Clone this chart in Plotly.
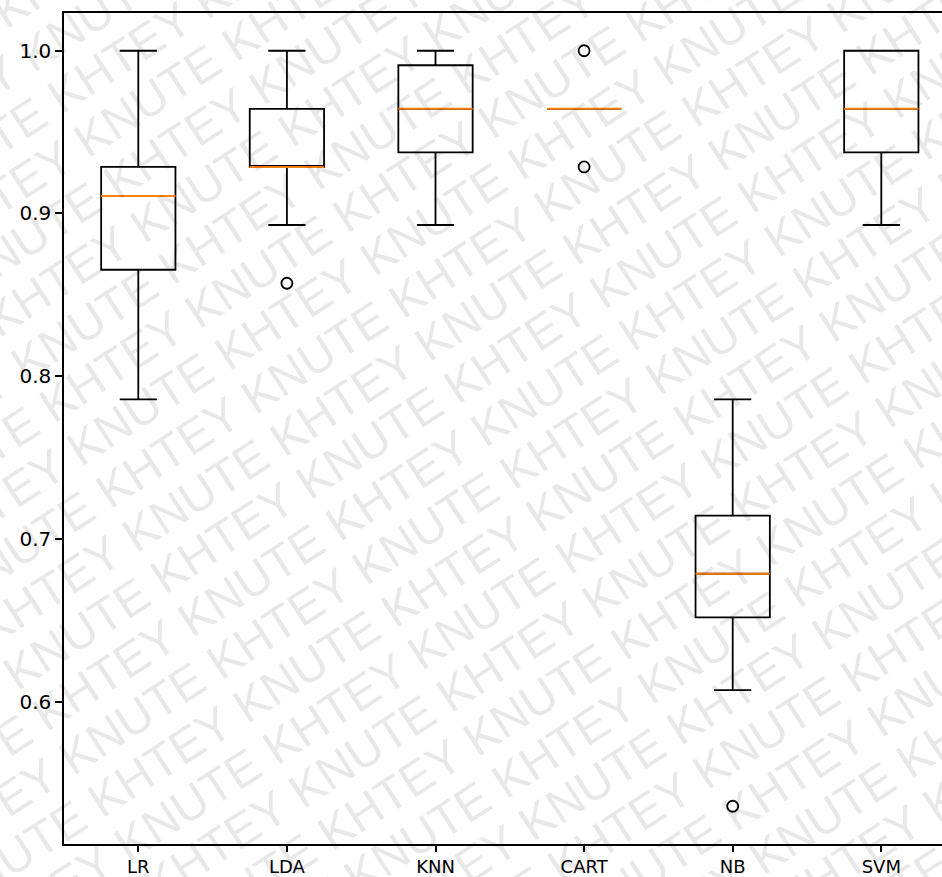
import plotly.graph_objects as go
import math

# ---- data ----
labels = ["LR", "LDA", "KNN", "CART", "NB", "SVM"]
positions = [1, 2, 3, 4, 5, 6]
q1 = [0.8654, 0.9286, 0.9375, 0.9643, 0.6518, 0.9375]
median = [0.9107, 0.9286, 0.9643, 0.9643, 0.6786, 0.9643]
q3 = [0.9286, 0.9643, 0.9911, 0.9643, 0.7143, 1.0000]
lowerfence = [0.7857, 0.8929, 0.8929, 0.9643, 0.6071, 0.8929]
upperfence = [1.0000, 1.0000, 1.0000, 0.9643, 0.7857, 1.0000]
outlier_pos = [2, 4, 4, 5]
outlier_val = [0.8571, 1.0000, 0.9286, 0.5357]
yticks = [0.6, 0.7, 0.8, 0.9, 1.0]

W, H = 942, 877
ML, MT, MR, MB = 64, 13, 0, 33
BOX_W = 0.5

fig = go.Figure()

fig.add_trace(go.Box(
    x=positions, q1=q1, median=median, q3=q3,
    lowerfence=lowerfence, upperfence=upperfence,
    width=BOX_W, whiskerwidth=0.5, boxpoints=False,
    fillcolor="rgba(0,0,0,0)", line=dict(color="black", width=1.8),
    showlegend=False, hoverinfo="skip",
))

mx, my = [], []
for p, m in zip(positions, median):
    mx += [p - BOX_W / 2, p + BOX_W / 2, None]
    my += [m, m, None]
fig.add_trace(go.Scatter(x=mx, y=my, mode="lines",
                         line=dict(color="#ff7f0e", width=2.0),
                         showlegend=False, hoverinfo="skip"))

fig.add_trace(go.Scatter(x=outlier_pos, y=outlier_val, mode="markers",
                         marker=dict(symbol="circle-open", size=11, color="black",
                                     line=dict(width=1.8, color="black")),
                         showlegend=False, hoverinfo="skip"))

# ---- watermark (tiled words) ----
ang = 33.0
FS = 48
ca, sa = math.cos(math.radians(ang)), math.sin(math.radians(ang))
pw, ph = W - ML - MR, H - MT - MB
annots = []
cx0, cy0 = 471, 438
spacing = 51
period = 7.28 * FS
half = period / 2
for k in range(-15, 16):
    for j in range(-4, 5):
        for word, off in (("KHTEY", -half / 2), ("KNUTE", half / 2)):
            t = j * period + off + (k % 2) * half
            px = cx0 + k * spacing * sa + t * ca
            py = cy0 + k * spacing * ca - t * sa
            if -150 < px < W + 150 and -150 < py < H + 150:
                annots.append(dict(
                    x=(px - ML) / pw, y=(H - MB - py) / ph,
                    xref="paper", yref="paper",
                    text=word, showarrow=False, textangle=-ang,
                    xanchor="center", yanchor="middle",
                    font=dict(family="Liberation Sans, Arial, sans-serif",
                              size=FS, color="rgba(0,0,0,0.09)"),
                ))

fig.update_layout(
    width=W, height=H,
    margin=dict(l=ML, r=MR, t=MT, b=MB, pad=0),
    paper_bgcolor="white", plot_bgcolor="white",
    font=dict(family="DejaVu Sans", size=20, color="black"),
    annotations=annots,
    xaxis=dict(range=[0.5, 0.5 + (W - ML - MR) / 148.6],
               tickvals=positions, ticktext=labels, automargin=False,
               tickfont=dict(size=18),
               showgrid=False, zeroline=False,
               showline=True, linecolor="black", linewidth=1.5, mirror=True,
               ticks="outside", ticklen=6, tickwidth=1.5, tickcolor="black"),
    yaxis=dict(range=[0.5125, 1.0232], tickvals=yticks, tickformat=".1f",
               automargin=False,
               showgrid=False, zeroline=False,
               showline=True, linecolor="black", linewidth=1.5, mirror=False,
               ticks="outside", ticklen=7, tickwidth=1.5, tickcolor="black"),
)

fig.write_html("out.html")
